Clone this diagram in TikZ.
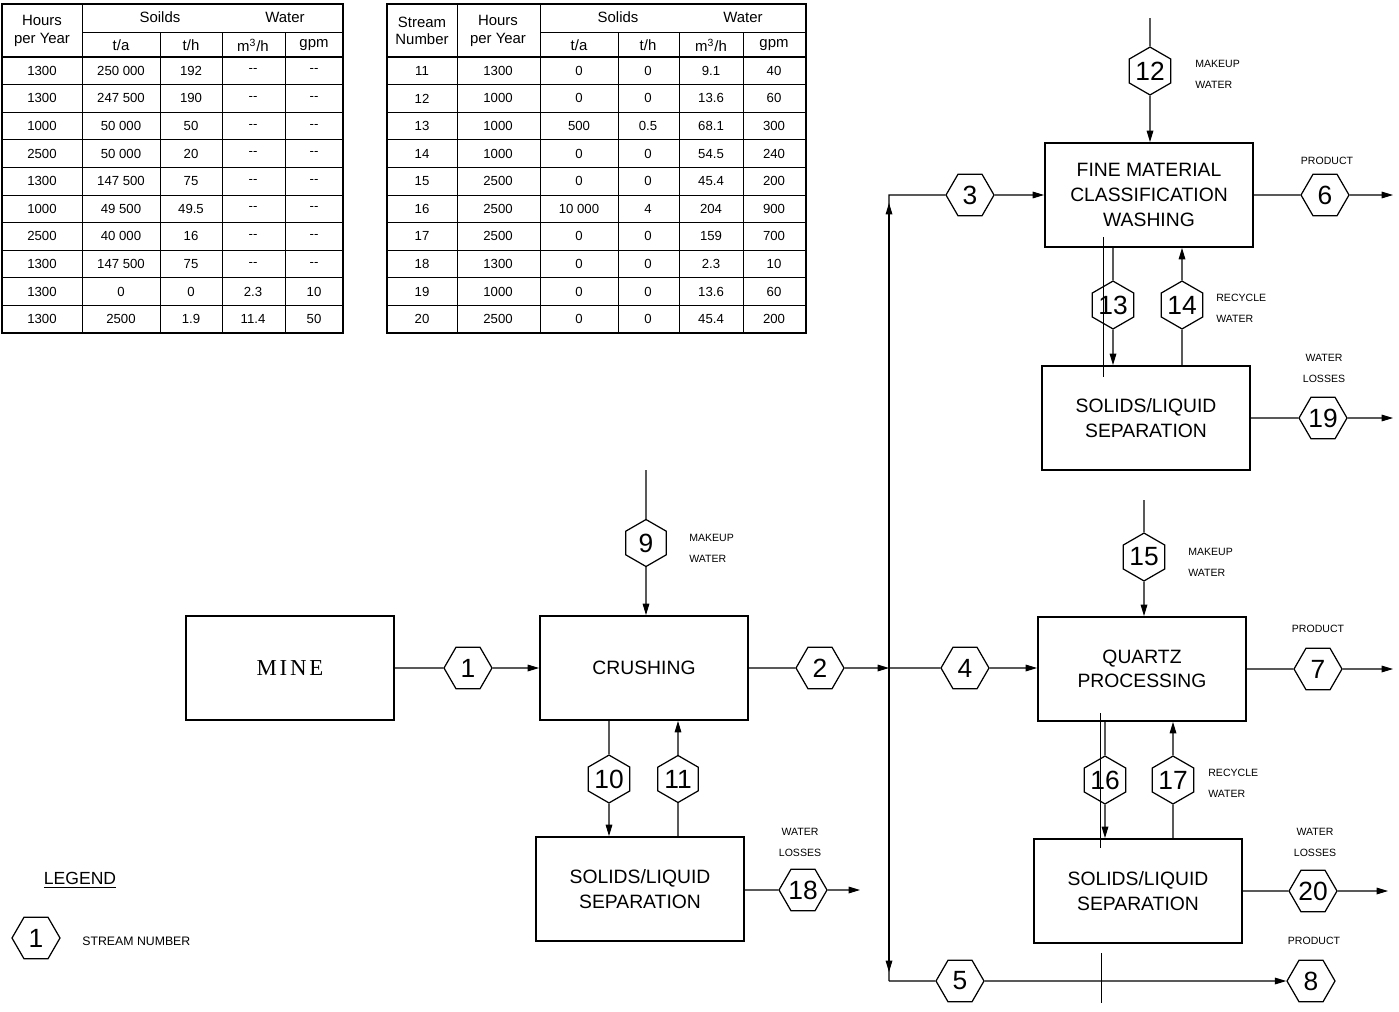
\documentclass[tikz,border=0pt]{standalone}
\usepackage{fontspec}
\setmainfont{Liberation Sans}
\newfontfamily\minefont{Liberation Serif}[LetterSpace=12]
\usetikzlibrary{shapes.geometric, arrows.meta, calc}
\tikzset{
  >=Triangle,
  flowline/.style={line width=0.6pt},
  flowarrow/.style={-{Triangle[length=6.5pt, width=3.8pt]}, line width=0.6pt},
  strayline/.style={line width=0.35pt}
}

\begin{document}
\begin{tikzpicture}[
    x=0.02cm, y=-0.02cm,
    box/.style={rectangle, draw, line width=1.1pt, minimum width=4.16cm, minimum height=2.08cm, inner sep=0pt, align=center, font=\fontsize{11}{14}\selectfont},
    hexnode/.style={regular polygon, regular polygon sides=6, draw, line width=0.7pt, minimum size=0.96cm, inner sep=0pt, font=\fontsize{15}{15}\selectfont},
    hexvert/.style={hexnode, shape border rotate=90, minimum size=0.94cm},
    note/.style={font=\fontsize{6}{12}\selectfont, inner sep=0pt},
    cell/.style={font=\fontsize{7.5}{9}\selectfont, inner sep=0pt},
    head/.style={font=\fontsize{8.5}{10}\selectfont, inner sep=0pt, align=center},
    tabframe/.style={line width=1pt},
    tabrule/.style={line width=0.45pt}
]
    \useasboundingbox (0,0) rectangle (1399,1011);
    \fill[white] (0,0) rectangle (1399,1011);

    % left stream table
    \draw[tabframe] (2,4) rectangle (343,333);
    \draw[tabrule] (82,4) -- (82,333);
    \draw[tabrule] (82,32) -- (343,32);
    \draw[tabframe] (2,57) -- (343,57);
    \foreach \cx in {160, 222, 285}
        \draw[tabrule] (\cx,32) -- (\cx,333);
    \foreach \k in {1,...,9}
        \draw[tabrule] (2,{57+27.6*\k}) -- (343,{57+27.6*\k});
    \node[head] (lhours) at (42,31) {Hours\\per Year};
    \node[head] (lsol) at (160,17) {Soilds};
    \node[head] (lwat) at (285,17) {Water};
    \node[head] (lta) at (121,45) {t/a};
    \node[head] (lth) at (191,45) {t/h};
    \node[head] (lwm) at (253,45) {m\textsuperscript{3}/h};
    \node[head] (lwg) at (314,45) {gpm};
    \foreach \hy/\ta/\th/\wm/\wg [count=\i] in {
        1300/250~000/192/-{}-/-{}-,
        1300/247~500/190/-{}-/-{}-,
        1000/50~000/50/-{}-/-{}-,
        2500/50~000/20/-{}-/-{}-,
        1300/147~500/75/-{}-/-{}-,
        1000/49~500/49.5/-{}-/-{}-,
        2500/40~000/16/-{}-/-{}-,
        1300/147~500/75/-{}-/-{}-,
        1300/0/0/2.3/10,
        1300/2500/1.9/11.4/50}
    {
        \node[cell] (lh\i) at (42,{43.2+27.6*\i}) {\hy};
        \node[cell] (la\i) at (121,{43.2+27.6*\i}) {\ta};
        \node[cell] (lb\i) at (191,{43.2+27.6*\i}) {\th};
        \node[cell] (lc\i) at (253,{43.2+27.6*\i}) {\wm};
        \node[cell] (ld\i) at (314,{43.2+27.6*\i}) {\wg};
    }

    % right stream table
    \draw[tabframe] (387,4) rectangle (806,333);
    \draw[tabrule] (457,4) -- (457,333);
    \draw[tabrule] (540,4) -- (540,333);
    \draw[tabrule] (540,32) -- (806,32);
    \draw[tabframe] (387,57) -- (806,57);
    \foreach \cx in {618, 679, 743}
        \draw[tabrule] (\cx,32) -- (\cx,333);
    \foreach \k in {1,...,9}
        \draw[tabrule] (387,{57+27.6*\k}) -- (806,{57+27.6*\k});
    \node[head] (rnum) at (422,31) {Stream\\Number};
    \node[head] (rhours) at (498,31) {Hours\\per Year};
    \node[head] (rsol) at (618,17) {Solids};
    \node[head] (rwat) at (743,17) {Water};
    \node[head] (rta) at (579,45) {t/a};
    \node[head] (rth) at (648,45) {t/h};
    \node[head] (rwm) at (711,45) {m\textsuperscript{3}/h};
    \node[head] (rwg) at (774,45) {gpm};
    \foreach \sn/\hy/\ta/\th/\wm/\wg [count=\i] in {
        11/1300/0/0/9.1/40,
        12/1000/0/0/13.6/60,
        13/1000/500/0.5/68.1/300,
        14/1000/0/0/54.5/240,
        15/2500/0/0/45.4/200,
        16/2500/10~000/4/204/900,
        17/2500/0/0/159/700,
        18/1300/0/0/2.3/10,
        19/1000/0/0/13.6/60,
        20/2500/0/0/45.4/200}
    {
        \node[cell] (rs\i) at (422,{43.2+27.6*\i}) {\sn};
        \node[cell] (rh\i) at (498,{43.2+27.6*\i}) {\hy};
        \node[cell] (ra\i) at (579,{43.2+27.6*\i}) {\ta};
        \node[cell] (rb\i) at (648,{43.2+27.6*\i}) {\th};
        \node[cell] (rc\i) at (711,{43.2+27.6*\i}) {\wm};
        \node[cell] (rd\i) at (774,{43.2+27.6*\i}) {\wg};
    }

    % process units
    \node[box, font=\minefont\fontsize{13}{14}\selectfont] (mine) at (290,668) {MINE};
    \node[box] (crush) at (644,668) {CRUSHING};
    \node[box] (sep1) at (640,889) {SOLIDS/LIQUID\\SEPARATION};
    \node[box] (fine) at (1149,195) {FINE  MATERIAL\\CLASSIFICATION\\WASHING};
    \node[box] (sep2) at (1146,418) {SOLIDS/LIQUID\\SEPARATION};
    \node[box] (quartz) at (1142,669) {QUARTZ\\PROCESSING};
    \node[box] (sep3) at (1138,891) {SOLIDS/LIQUID\\SEPARATION};

    % stream numbers
    \node[hexnode] (s1) at (468,668) {1};
    \node[hexnode] (s2) at (820,668) {2};
    \node[hexnode] (s3) at (970,195) {3};
    \node[hexnode] (s4) at (965,668) {4};
    \node[hexnode] (s5) at (960,981) {5};
    \node[hexnode] (s6) at (1325,195) {6};
    \node[hexnode] (s7) at (1318,669) {7};
    \node[hexnode] (s8) at (1311,981) {8};
    \node[hexvert] (s9) at (646,543) {9};
    \node[hexvert] (s10) at (609,779) {10};
    \node[hexvert] (s11) at (678,779) {11};
    \node[hexvert] (s12) at (1150,71) {12};
    \node[hexvert] (s13) at (1113,305) {13};
    \node[hexvert] (s14) at (1182,305) {14};
    \node[hexvert] (s15) at (1144,557) {15};
    \node[hexvert] (s16) at (1105,780) {16};
    \node[hexvert] (s17) at (1173,780) {17};
    \node[hexnode] (s18) at (803,890) {18};
    \node[hexnode] (s19) at (1323,418) {19};
    \node[hexnode] (s20) at (1313,891) {20};

    % labels
    \node[note, anchor=west, align=left] (mw9) at (689,548) {MAKEUP\\WATER};
    \node[note, anchor=west, align=left] (mw12) at (1195,74) {MAKEUP\\WATER};
    \node[note, anchor=west, align=left] (mw15) at (1188,562) {MAKEUP\\WATER};
    \node[note, anchor=west, align=left] (rw14) at (1216,308) {RECYCLE\\WATER};
    \node[note, anchor=west, align=left] (rw17) at (1208,783) {RECYCLE\\WATER};
    \node[note, align=center] (wl18) at (800,842) {WATER\\LOSSES};
    \node[note, align=center] (wl19) at (1324,368) {WATER\\LOSSES};
    \node[note, align=center] (wl20) at (1315,842) {WATER\\LOSSES};
    \node[note] (p6) at (1327,161) {PRODUCT};
    \node[note] (p7) at (1318,629) {PRODUCT};
    \node[note] (p8) at (1314,941) {PRODUCT};

    % free ends and junctions
    \coordinate (i9) at (646,470);
    \coordinate (i12) at (1150,18);
    \coordinate (i15) at (1144,500);
    \coordinate (o6) at (1393,195);
    \coordinate (o7) at (1393,669);
    \coordinate (o18) at (860,890);
    \coordinate (o19) at (1393,418);
    \coordinate (o20) at (1388,891);
    \coordinate (j2) at (889,668);
    \coordinate (j3) at (889,195);
    \coordinate (j5) at (889,981);
    \coordinate (up3) at (889,203);
    \coordinate (dn5) at (889,972);

    % crushing circuit
    \draw[flowline] (mine) -- (s1);
    \draw[flowarrow] (s1) -- (crush);
    \draw[flowline] (i9) -- (s9);
    \draw[flowarrow] (s9) -- (s9 |- crush.north);
    \draw[flowline] (crush.south -| s10) -- (s10);
    \draw[flowarrow] (s10) -- (sep1.north -| s10);
    \draw[flowline] (sep1.north -| s11) -- (s11);
    \draw[flowarrow] (s11) -- (crush.south -| s11);
    \draw[flowline] (sep1.east |- s18) -- (s18);
    \draw[flowarrow] (s18) -- (o18);
    \draw[flowline] (crush) -- (s2);
    \draw[flowarrow] (s2) -- (j2);

    % split
    \draw[flowline] (j5) -- (j3) -- (s3);
    \draw[flowarrow] (j2) -- (up3);
    \draw[flowarrow] (j2) -- (dn5);
    \draw[flowline] (j2) -- (s4);
    \draw[flowline] (j5) -- (s5);
    \draw[flowarrow] (s5) -- (s8);

    % fine material circuit
    \draw[flowarrow] (s3) -- (fine);
    \draw[flowline] (i12) -- (s12);
    \draw[flowarrow] (s12) -- (s12 |- fine.north);
    \draw[flowline] (fine) -- (s6);
    \draw[flowarrow] (s6) -- (o6);
    \draw[flowline] (fine.south -| s13) -- (s13);
    \draw[flowarrow] (s13) -- (sep2.north -| s13);
    \draw[flowline] (sep2.north -| s14) -- (s14);
    \draw[flowarrow] (s14) -- (fine.south -| s14);
    \draw[flowline] (sep2.east |- s19) -- (s19);
    \draw[flowarrow] (s19) -- (o19);

    % quartz circuit
    \draw[flowarrow] (s4) -- (quartz.west |- s4);
    \draw[flowline] (i15) -- (s15);
    \draw[flowarrow] (s15) -- (s15 |- quartz.north);
    \draw[flowline] (quartz.east |- s7) -- (s7);
    \draw[flowarrow] (s7) -- (o7);
    \draw[flowline] (quartz.south -| s16) -- (s16);
    \draw[flowarrow] (s16) -- (sep3.north -| s16);
    \draw[flowline] (sep3.north -| s17) -- (s17);
    \draw[flowarrow] (s17) -- (quartz.south -| s17);
    \draw[flowline] (sep3.east |- s20) -- (s20);
    \draw[flowarrow] (s20) -- (o20);

    % thin stray lines
    \draw[strayline] (1103,237) -- (1103,377);
    \draw[strayline] (1100,713) -- (1100,848);
    \draw[strayline] (1101,953) -- (1101,1003);

    % legend
    \node[font=\fontsize{10}{12}\selectfont] (legend) at (80,880) {\underline{LEGEND}};
    \node[hexnode] (s0) at (36,938) {1};
    \node[note, font=\fontsize{7}{8}\selectfont, anchor=west] (legtext) at (82,941) {STREAM  NUMBER};
\end{tikzpicture}
\end{document}
